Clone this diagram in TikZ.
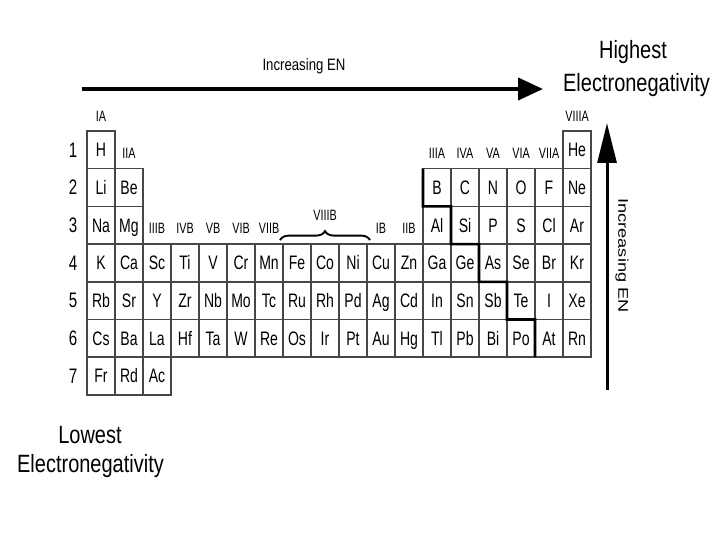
\documentclass[tikz,border=0pt]{standalone}
\usepackage{fontspec}
\setmainfont{Liberation Sans}[FakeStretch=0.8]
\newfontfamily\narrowfont{Liberation Sans}[FakeStretch=0.72]
\newfontfamily\widefont{Liberation Sans}[FakeStretch=1.3]
\usetikzlibrary{arrows.meta,decorations.pathreplacing}
\begin{document}
\begin{tikzpicture}[x=1pt,y=-1pt,
  cell/.style={draw=black!72, line width=1.6pt, minimum width=28pt, minimum height=37.7pt,
    inner sep=0pt, outer sep=0pt, anchor=north west, text height=13.6pt, text depth=0pt,
    font=\narrowfont\fontsize{19.5}{21}\selectfont},
  grp/.style={inner sep=0pt, font=\narrowfont\fontsize{15}{17}\selectfont},
  rownum/.style={inner sep=0pt, font=\narrowfont\fontsize{21}{23}\selectfont},
  big/.style={inner sep=0pt, anchor=base, font=\fontsize{25}{27}\selectfont},
  stair/.style={line width=2.6pt, line join=miter, black},
  enarrow/.style={line width=4pt}
]
\useasboundingbox (0,0) rectangle (720,540);
\fill[white] (0,0) rectangle (720,540);

% row 1
\node[cell] (e1-1) at (87,131) {H};
\node[cell] (e1-18) at ({87+17*28},131) {He};
% row 2
\node[cell] (e2-1) at (87,168.7) {Li};
\node[cell] (e2-2) at (115,168.7) {Be};
\foreach \s [count=\c from 13] in {B,C,N,O,F,Ne}
  \node[cell] (e2-\c) at ({87+(\c-1)*28},168.7) {\s};
% row 3
\node[cell] (e3-1) at (87,206.4) {Na};
\node[cell] (e3-2) at (115,206.4) {Mg};
\foreach \s [count=\c from 13] in {Al,Si,P,S,Cl,Ar}
  \node[cell] (e3-\c) at ({87+(\c-1)*28},206.4) {\s};
% rows 4-6
\foreach \s [count=\c] in {K,Ca,Sc,Ti,V,Cr,Mn,Fe,Co,Ni,Cu,Zn,Ga,Ge,As,Se,Br,Kr}
  \node[cell] (e4-\c) at ({87+(\c-1)*28},244.1) {\s};
\foreach \s [count=\c] in {Rb,Sr,Y,Zr,Nb,Mo,Tc,Ru,Rh,Pd,Ag,Cd,In,Sn,Sb,Te,I,Xe}
  \node[cell] (e5-\c) at ({87+(\c-1)*28},281.8) {\s};
\foreach \s [count=\c] in {Cs,Ba,La,Hf,Ta,W,Re,Os,Ir,Pt,Au,Hg,Tl,Pb,Bi,Po,At,Rn}
  \node[cell] (e6-\c) at ({87+(\c-1)*28},319.5) {\s};
% row 7
\foreach \s [count=\c] in {Fr,Rd,Ac}
  \node[cell] (e7-\c) at ({87+(\c-1)*28},357.2) {\s};

% metal / nonmetal staircase
\draw[stair] (e2-13.north west) -- (e2-13.south west) -- (e3-14.north west)
  -- (e3-14.south west) -- (e4-15.north west) -- (e4-15.south west)
  -- (e5-16.north west) -- (e5-16.south west) -- (e6-17.north west)
  -- (e6-17.south west);

% row numbers
\foreach \r/\y in {1/149.8,2/187.5,3/225.2,4/262.9,5/300.6,6/338.3,7/376}
  \node[rownum] (row\r) at (73,\y) {\r};

% group labels
\node[grp] (gIA) at (101,116) {IA};
\node[grp] (gIIA) at (129,153) {IIA};
\node[grp] (gIIIB) at (157,228) {IIIB};
\node[grp] (gIVB) at (185,228) {IVB};
\node[grp] (gVB) at (213,228) {VB};
\node[grp] (gVIB) at (241,228) {VIB};
\node[grp] (gVIIB) at (269,228) {VIIB};
\node[grp] (gVIIIB) at (325,215) {VIIIB};
\node[grp] (gIB) at (381,228) {IB};
\node[grp] (gIIB) at (409,228) {IIB};
\node[grp] (gIIIA) at (437,153) {IIIA};
\node[grp] (gIVA) at (465,153) {IVA};
\node[grp] (gVA) at (493,153) {VA};
\node[grp] (gVIA) at (521,153) {VIA};
\node[grp] (gVIIA) at (549,153) {VIIA};
\node[grp] (gVIIIA) at (577,116) {VIIIA};

% brace over VIIIB
\draw[decorate, decoration={brace, amplitude=9pt}, line width=1.9pt]
  ([yshift=4pt,xshift=-3pt]e4-8.north west) -- ([yshift=4pt,xshift=3pt]e4-10.north east);

% horizontal arrow
\coordinate (ha) at (82,89);
\coordinate (hb) at (543,89);
\draw[enarrow, -{Triangle[length=25pt,width=22pt]}] (ha) -- (hb);
\node[inner sep=0pt, anchor=base, font=\fontsize{16.5}{18}\selectfont] (lblh) at (304,71) {Increasing EN};

% vertical arrow
\coordinate (va) at (607,390);
\coordinate (vb) at (607,123);
\draw[line width=3pt, -{Triangle[length=40pt,width=19pt]}] (va) -- (vb);
\node[inner sep=0pt, rotate=-90, font=\widefont\fontsize{14}{16}\selectfont] (lblv) at (622,255.5) {Increasing EN};

% corner captions
\node[big] (hi1) at (633,59) {Highest};
\node[big] (hi2) at (636.5,92) {Electronegativity};
\node[big] (lo1) at (90,443) {Lowest};
\node[big] (lo2) at (90.5,472) {Electronegativity};
\end{tikzpicture}
\end{document}
